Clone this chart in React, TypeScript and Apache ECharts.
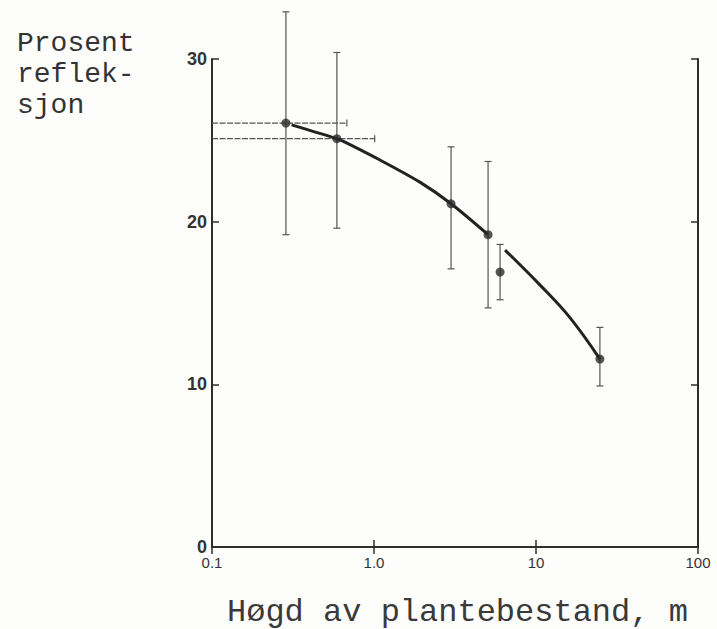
import React, { useEffect, useRef } from "react";
import * as echarts from "echarts";

// Measured points (height in m, percent reflection)
const heights = [0.286, 0.59, 2.99, 5.06, 6.0, 24.8];
const reflection = [26.06, 25.1, 21.1, 19.2, 16.9, 11.55];
// Vertical error bars
const errLow = [19.2, 19.6, 17.1, 14.7, 15.2, 9.9];
const errHigh = [32.9, 30.4, 24.6, 23.7, 18.6, 13.5];
// Horizontal error bars
const hErrY = [26.06, 25.1];
const hErrLow = [0.1, 0.1];
const hErrHigh = [0.68, 1.01];
// Fitted curve (two drawn segments)
const curveA: [number, number][] = [
  [0.31, 25.95],
  [0.59, 25.1],
  [0.662, 24.89],
  [1.089, 23.79],
  [1.92, 22.43],
  [2.99, 21.1],
  [5.06, 19.2],
];
const curveB: [number, number][] = [
  [6.44, 18.25],
  [10.6, 16.1],
  [16.2, 14.1],
  [24.8, 11.55],
];
const xTickLabels = ["0.1", "1.0", "10", "100"];
const yTicks = [0, 10, 20, 30];

export default function App() {
  const ref = useRef<HTMLDivElement>(null);
  useEffect(() => {
    if (!ref.current) return;
    const chart = echarts.init(ref.current, undefined, { renderer: "svg" });
    const ink = "#2e2e2e";
    const vErr = heights.map((h, i) => [h, errLow[i], errHigh[i]]);
    const hErr = hErrY.map((y, i) => [y, hErrLow[i], hErrHigh[i]]);
    const xFmt = (v: number) => {
      const idx = Math.round(Math.log10(v)) + 1;
      return xTickLabels[idx] ?? String(v);
    };
    const tickFont = { fontFamily: "Liberation Sans, Arial, sans-serif", color: "#333" };
    const tick = { show: true, inside: true, length: 7, lineStyle: { color: ink, width: 1.5 } };
    chart.setOption({
      animation: false,
      backgroundColor: "#fdfdfb",
      grid: { left: 212, right: 19, top: 59, bottom: 82 },
      xAxis: [
        {
          type: "log",
          logBase: 10,
          min: 0.1,
          max: 100,
          position: "bottom",
          axisLine: { show: true, lineStyle: { color: ink, width: 2 } },
          axisTick: tick,
          minorTick: { show: false },
          splitLine: { show: false },
          axisLabel: { ...tickFont, fontSize: 15, margin: 8, formatter: xFmt, showMinLabel: true, showMaxLabel: true },
        },
        {
          type: "log",
          logBase: 10,
          min: 0.1,
          max: 100,
          position: "top",
          axisLine: { show: true, lineStyle: { color: ink, width: 2 } },
          axisTick: tick,
          splitLine: { show: false },
          axisLabel: { show: false },
        },
      ],
      yAxis: [
        {
          type: "value",
          min: yTicks[0],
          max: yTicks[yTicks.length - 1],
          interval: 10,
          position: "left",
          axisLine: { show: true, lineStyle: { color: ink, width: 2 } },
          axisTick: tick,
          splitLine: { show: false },
          axisLabel: { ...tickFont, fontSize: 18, margin: 5, fontWeight: "bold" },
        },
        {
          type: "value",
          min: yTicks[0],
          max: yTicks[yTicks.length - 1],
          interval: 10,
          position: "right",
          axisLine: { show: true, lineStyle: { color: ink, width: 2 } },
          axisTick: tick,
          splitLine: { show: false },
          axisLabel: { show: false },
        },
      ],
      graphic: [
        {
          type: "text",
          left: 17,
          top: 28,
          style: {
            text: "Prosent\nreflek-\nsjon",
            font: "28px 'Liberation Mono', monospace",
            lineHeight: 31,
            fill: "#333",
          },
        },
        {
          type: "text",
          left: 227,
          top: 596,
          style: {
            text: "Høgd av plantebestand, m",
            font: "32px 'Liberation Mono', monospace",
            fill: "#3a3a3a",
          },
        },
      ],
      series: [
        {
          type: "custom",
          xAxisIndex: 0,
          yAxisIndex: 0,
          clip: false,
          data: vErr,
          encode: { x: 0, y: [1, 2] },
          renderItem: (params: any, api: any) => {
            const x = api.value(0);
            const top = api.coord([x, api.value(2)]);
            const bot = api.coord([x, api.value(1)]);
            const st = { stroke: "#555", lineWidth: 1.2 };
            const c = 3.5;
            return {
              type: "group",
              children: [
                { type: "line", shape: { x1: top[0], y1: top[1], x2: bot[0], y2: bot[1] }, style: st },
                { type: "line", shape: { x1: top[0] - c, y1: top[1], x2: top[0] + c, y2: top[1] }, style: st },
                { type: "line", shape: { x1: bot[0] - c, y1: bot[1], x2: bot[0] + c, y2: bot[1] }, style: st },
              ],
            };
          },
          z: 2,
        },
        {
          type: "custom",
          xAxisIndex: 0,
          yAxisIndex: 0,
          clip: false,
          data: hErr,
          encode: { y: 0, x: [1, 2] },
          renderItem: (params: any, api: any) => {
            const y = api.value(0);
            const l = api.coord([api.value(1), y]);
            const r = api.coord([api.value(2), y]);
            const st = { stroke: "#555", lineWidth: 1.2, lineDash: [6, 1.5] };
            const c = 3.5;
            return {
              type: "group",
              children: [
                { type: "line", shape: { x1: l[0], y1: l[1], x2: r[0], y2: r[1] }, style: st },
                { type: "line", shape: { x1: r[0], y1: r[1] - c, x2: r[0], y2: r[1] + c }, style: { stroke: "#555", lineWidth: 1.2 } },
              ],
            };
          },
          z: 2,
        },
        {
          type: "line",
          data: curveA,
          smooth: 0.3,
          showSymbol: false,
          lineStyle: { color: "#222", width: 3 },
          z: 3,
        },
        {
          type: "line",
          data: curveB,
          smooth: 0.4,
          showSymbol: false,
          lineStyle: { color: "#222", width: 3 },
          z: 3,
        },
        {
          type: "scatter",
          data: heights.map((h, i) => [h, reflection[i]]),
          symbol: "circle",
          symbolSize: 9,
          itemStyle: { color: "#2a2a2a" },
          z: 4,
        },
      ],
    });
    return () => chart.dispose();
  }, []);
  return (
    <div
      ref={ref}
      style={{ position: "absolute", left: 0, top: 0, width: 717, height: 629 }}
    />
  );
}
